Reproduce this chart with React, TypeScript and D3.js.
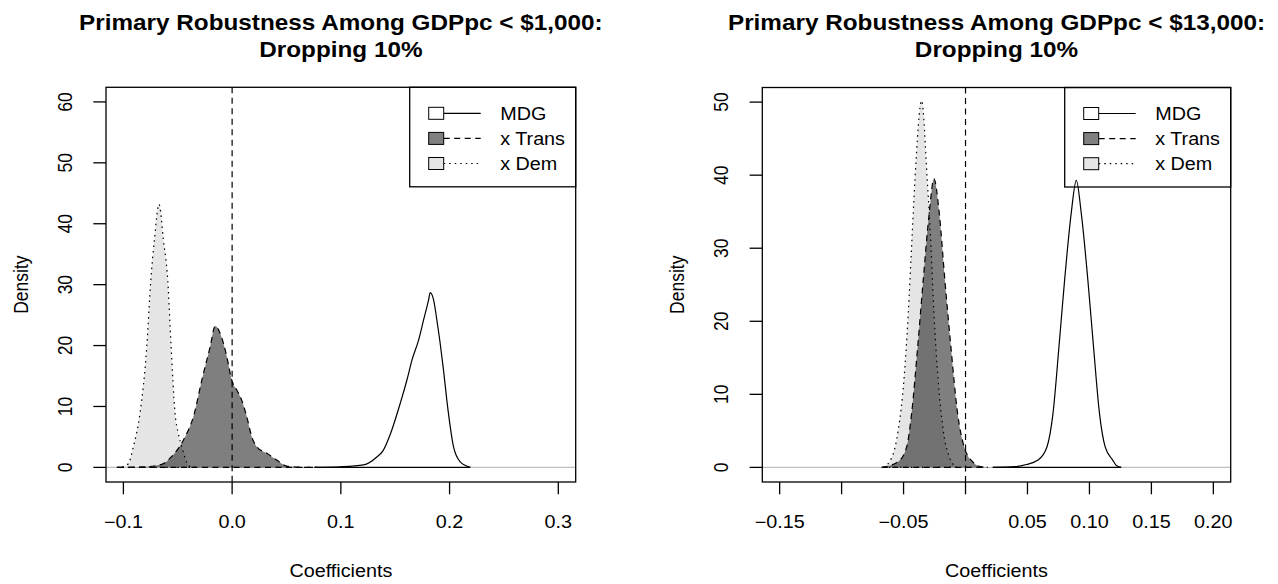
import React from "react";
import * as d3 from "d3";

const W = 1278;
const H = 584;
const SX = 1.13;
const FONT = "'Liberation Sans', Arial, Helvetica, sans-serif";

// ---------- text / labels ----------
const titleLeft = ["Primary Robustness Among GDPpc < $1,000:", "Dropping 10%"];
const titleRight = ["Primary Robustness Among GDPpc < $13,000:", "Dropping 10%"];
const legendLabels = ["MDG", "x Trans", "x Dem"];
const xLabel = "Coefficients";
const yLabel = "Density";

const xTicksLeft = [-0.1, 0, 0.1, 0.2, 0.3];
const xTickLabelsLeft = ["\u22120.1", "0.0", "0.1", "0.2", "0.3"];
const yTicksLeft = [0, 10, 20, 30, 40, 50, 60];
const xTicksRight = [-0.15, -0.1, -0.05, 0, 0.05, 0.1, 0.15, 0.2];
const xTickLabelsRight = ["\u22120.15", "", "\u22120.05", "", "0.05", "0.10", "0.15", "0.20"];
const yTicksRight = [0, 10, 20, 30, 40, 50];

// ---------- density curves (coefficient, density) ----------
// Left panel (GDPpc < $1,000)
const leftMdgX = [0.076, 0.1, 0.1208, 0.1331, 0.139, 0.1454, 0.1546, 0.1607, 0.1654, 0.1715, 0.1761, 0.1807, 0.1822, 0.1853, 0.1883, 0.1914, 0.1944, 0.1975, 0.2006, 0.2036, 0.2098, 0.219];
const leftMdgY = [0, 0.1, 0.4, 1.7, 2.8, 5.4, 10.5, 14.3, 17.6, 20.9, 24.2, 27.5, 28.7, 27.5, 24.2, 20.3, 16.0, 11.0, 6.7, 3.4, 0.9, 0];

const leftTransX = [-0.105, -0.08, -0.0647, -0.0555, -0.0448, -0.0347, -0.0279, -0.0202, -0.0156, -0.011, -0.0049, -0.0003, 0.0043, 0.0089, 0.0135, 0.0181, 0.0227, 0.032, 0.041, 0.0503, 0.065, 0.078];
const leftTransY = [0, 0.1, 0.5, 1.8, 4.5, 8.9, 14.3, 19.8, 23.2, 22.0, 18.2, 14.3, 12.7, 11.0, 8.3, 5.0, 3.4, 2.3, 1.2, 0.2, 0.02, 0];

const leftDemX = [-0.106, -0.1, -0.0954, -0.0908, -0.0847, -0.0785, -0.0748, -0.0715, -0.0672, -0.0632, -0.0592, -0.0561, -0.0525, -0.0494, -0.0463, -0.0411, -0.037, -0.03];
const leftDemY = [0, 0.1, 0.6, 3.4, 8.9, 19.8, 30.7, 37.3, 43.2, 37.3, 30.7, 19.8, 8.9, 5.5, 3.4, 0.6, 0.05, 0];

// Right panel (GDPpc < $13,000)
const rightMdgX = [0.022, 0.04, 0.0491, 0.0585, 0.0657, 0.0706, 0.0754, 0.08, 0.0853, 0.0894, 0.0934, 0.0987, 0.1033, 0.1081, 0.1127, 0.1188, 0.1215, 0.1256];
const rightMdgY = [0, 0.1, 0.4, 1.0, 2.8, 7.4, 16.5, 25.7, 34.8, 39.3, 34.8, 25.7, 16.5, 7.4, 2.8, 1.0, 0.3, 0];

const rightTransX = [-0.0676, -0.0543, -0.0475, -0.0435, -0.0386, -0.0341, -0.0293, -0.0255, -0.0212, -0.0167, -0.0118, -0.0064, -0.0011, 0.0061, 0.012, 0.018];
const rightTransY = [0, 0.8, 2.8, 7.4, 16.5, 25.7, 34.8, 39.5, 34.8, 25.7, 16.5, 7.4, 2.8, 0.7, 0.1, 0];

const rightDemX = [-0.0663, -0.0591, -0.0543, -0.0497, -0.0462, -0.0435, -0.0408, -0.0354, -0.0309, -0.0279, -0.0255, -0.0221, -0.018, -0.0132, -0.0073];
const rightDemY = [0, 1.5, 5.1, 12.0, 21.1, 30.3, 39.4, 50.2, 39.4, 30.3, 21.1, 12.0, 5.1, 1.5, 0];

type Pt = [number, number];
const zip = (xs: number[], ys: number[]): Pt[] => xs.map((x, i) => [x, ys[i]]);

const styles = {
  mdg: { fill: "#ffffff", dash: undefined as string | undefined },
  trans: { fill: "rgba(0,0,0,0.5)", dash: "6,4.5" },
  dem: { fill: "#e5e5e5", dash: "1.5,4" },
};

function T(props: {
  x: number; y: number; size: number; bold?: boolean; anchor?: string; rotate?: boolean; children: React.ReactNode;
}) {
  const { x, y, size, bold, anchor = "middle", rotate, children } = props;
  const tf = rotate
    ? `translate(${x},${y}) rotate(-90) scale(1,${SX})`
    : `translate(${x},${y}) scale(${SX},1)`;
  return (
    <text
      transform={tf}
      fontFamily={FONT}
      fontSize={size}
      fontWeight={bold ? "bold" : "normal"}
      textAnchor={anchor}
      fill="#000"
    >
      {children}
    </text>
  );
}

function Panel(props: {
  left: number; right: number; top: number; bottom: number;
  xlim: [number, number]; ylim: [number, number];
  xTicks: number[]; xTickLabels: string[]; yTicks: number[];
  title: string[];
  mdg: Pt[]; trans: Pt[]; dem: Pt[];
}) {
  const { left, right, top, bottom, xlim, ylim, xTicks, xTickLabels, yTicks, title, mdg, trans, dem } = props;
  const ex = (xlim[1] - xlim[0]) * 0.04;
  const ey = (ylim[1] - ylim[0]) * 0.04;
  const x = d3.scaleLinear().domain([xlim[0] - ex, xlim[1] + ex]).range([left, right]);
  const y = d3.scaleLinear().domain([ylim[0] - ey, ylim[1] + ey]).range([bottom, top]);
  const area = d3.area<Pt>().x((d) => x(d[0])).y0(y(0)).y1((d) => y(d[1])).curve(d3.curveMonotoneX);
  const line = d3.line<Pt>().x((d) => x(d[0])).y((d) => y(d[1])).curve(d3.curveMonotoneX);
  const cx = (left + right) / 2;
  const cy = (top + bottom) / 2;
  const clipId = `clip-${Math.round(left)}`;

  const drawDensity = (pts: Pt[], st: { fill: string; dash?: string }) => {
    const first = pts[0], last = pts[pts.length - 1];
    return (
      <g>
        <path d={area(pts) || ""} fill={st.fill} stroke="none" />
        <path d={line(pts) || ""} fill="none" stroke="#000" strokeWidth={1.2} strokeDasharray={st.dash} />
        <line x1={x(first[0])} x2={x(last[0])} y1={y(0)} y2={y(0)} stroke="#000" strokeWidth={1.2} strokeDasharray={st.dash} />
      </g>
    );
  };

  // legend
  const lgRight = right;
  const lgLeft = right - 166;
  const lgTop = top;
  const lgBottom = top + 99.5;
  const rows = [
    { label: legendLabels[0], st: styles.mdg },
    { label: legendLabels[1], st: styles.trans },
    { label: legendLabels[2], st: styles.dem },
  ];

  return (
    <g>
      <defs>
        <clipPath id={clipId}>
          <rect x={left} y={top} width={right - left} height={bottom - top} />
        </clipPath>
      </defs>
      {/* title */}
      <T x={cx} y={30} size={21.5} bold>{title[0]}</T>
      <T x={cx} y={56.5} size={21.5} bold>{title[1]}</T>

      <g clipPath={`url(#${clipId})`}>
        {/* baseline */}
        <line x1={left} x2={right} y1={y(0)} y2={y(0)} stroke="#bebebe" strokeWidth={1.2} />
        {drawDensity(dem, styles.dem)}
        {drawDensity(trans, styles.trans)}
        {drawDensity(mdg, styles.mdg)}
        {/* vertical reference line at 0 */}
        <line x1={x(0)} x2={x(0)} y1={top} y2={bottom} stroke="#000" strokeWidth={1.2} strokeDasharray="6,4.5" />
      </g>

      {/* box */}
      <rect x={left} y={top} width={right - left} height={bottom - top} fill="none" stroke="#000" strokeWidth={1.3} />

      {/* x axis */}
      {xTicks.map((t, i) => (
        <g key={`xt${i}`}>
          <line x1={x(t)} x2={x(t)} y1={bottom} y2={bottom + 12.3} stroke="#000" strokeWidth={1.3} />
          {xTickLabels[i] ? <T x={x(t)} y={528} size={17.5}>{xTickLabels[i]}</T> : null}
        </g>
      ))}
      <T x={cx} y={576.5} size={17.5}>{xLabel}</T>

      {/* y axis */}
      {yTicks.map((t, i) => (
        <g key={`yt${i}`}>
          <line x1={left - 12.7} x2={left} y1={y(t)} y2={y(t)} stroke="#000" strokeWidth={1.3} />
          <T x={left - 34.3} y={y(t)} size={17.5} rotate>{String(t)}</T>
        </g>
      ))}
      <T x={left - 78.5} y={cy} size={17.5} rotate>{yLabel}</T>

      {/* legend */}
      <rect x={lgLeft} y={lgTop} width={lgRight - lgLeft} height={lgBottom - lgTop} fill="none" stroke="#000" strokeWidth={1.3} />
      {rows.map((r, i) => {
        const rowY = top + 26 + i * 25.1;
        return (
          <g key={`lg${i}`}>
            <line x1={lgLeft + 34} x2={lgLeft + 71} y1={rowY} y2={rowY} stroke="#000" strokeWidth={1.2} strokeDasharray={r.st.dash} />
            <rect x={lgLeft + 19} y={rowY - 6} width={15} height={12} fill={r.st.fill === "rgba(0,0,0,0.5)" ? "#808080" : r.st.fill} stroke="#000" strokeWidth={1} />
            <T x={lgLeft + 90.5} y={rowY + 6.2} size={17.5} anchor="start">{r.label}</T>
          </g>
        );
      })}
    </g>
  );
}

export default function App() {
  return (
    <svg width={W} height={H} viewBox={`0 0 ${W} ${H}`} style={{ display: "block", position: "absolute", left: 0, top: 0, background: "#fff" }}>
      <rect x={0} y={0} width={W} height={H} fill="#fff" />
      <Panel
        left={106} right={575.7} top={87.3} bottom={482}
        xlim={[-0.1, 0.3]} ylim={[0, 60]}
        xTicks={xTicksLeft} xTickLabels={xTickLabelsLeft} yTicks={yTicksLeft}
        title={titleLeft}
        mdg={zip(leftMdgX, leftMdgY)} trans={zip(leftTransX, leftTransY)} dem={zip(leftDemX, leftDemY)}
      />
      <Panel
        left={762.3} right={1230.7} top={87.5} bottom={482}
        xlim={[-0.15, 0.2]} ylim={[0, 50]}
        xTicks={xTicksRight} xTickLabels={xTickLabelsRight} yTicks={yTicksRight}
        title={titleRight}
        mdg={zip(rightMdgX, rightMdgY)} trans={zip(rightTransX, rightTransY)} dem={zip(rightDemX, rightDemY)}
      />
    </svg>
  );
}
